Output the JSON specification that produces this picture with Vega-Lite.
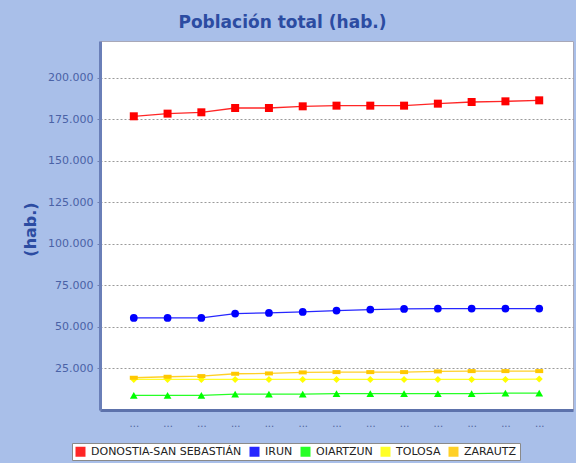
{
  "$schema": "https://vega.github.io/schema/vega-lite/v6.json",
  "width": 473,
  "height": 369,
  "autosize": {"type": "none"},
  "padding": {"left": 100, "top": 41, "right": 3, "bottom": 53},
  "background": "#a9bfe9",
  "title": {
    "text": "Población total (hab.)",
    "anchor": "middle",
    "frame": "group",
    "dx": -54,
    "dy": 18,
    "offset": 10,
    "baseline": "bottom",
    "font": "DejaVu Sans",
    "fontSize": 17,
    "fontWeight": "bold",
    "color": "#2c4ca2"
  },
  "data": {
    "values": [
      {"year": 1998, "municipio": "DONOSTIA-SAN SEBASTIÁN", "hab": 176700},
      {"year": 1999, "municipio": "DONOSTIA-SAN SEBASTIÁN", "hab": 178300},
      {"year": 2000, "municipio": "DONOSTIA-SAN SEBASTIÁN", "hab": 179100},
      {"year": 2001, "municipio": "DONOSTIA-SAN SEBASTIÁN", "hab": 181700},
      {"year": 2002, "municipio": "DONOSTIA-SAN SEBASTIÁN", "hab": 181700},
      {"year": 2003, "municipio": "DONOSTIA-SAN SEBASTIÁN", "hab": 182700},
      {"year": 2004, "municipio": "DONOSTIA-SAN SEBASTIÁN", "hab": 183100},
      {"year": 2005, "municipio": "DONOSTIA-SAN SEBASTIÁN", "hab": 183100},
      {"year": 2006, "municipio": "DONOSTIA-SAN SEBASTIÁN", "hab": 183100},
      {"year": 2007, "municipio": "DONOSTIA-SAN SEBASTIÁN", "hab": 184300},
      {"year": 2008, "municipio": "DONOSTIA-SAN SEBASTIÁN", "hab": 185300},
      {"year": 2009, "municipio": "DONOSTIA-SAN SEBASTIÁN", "hab": 185700},
      {"year": 2010, "municipio": "DONOSTIA-SAN SEBASTIÁN", "hab": 186300},
      {"year": 1998, "municipio": "IRUN", "hab": 55400},
      {"year": 1999, "municipio": "IRUN", "hab": 55400},
      {"year": 2000, "municipio": "IRUN", "hab": 55400},
      {"year": 2001, "municipio": "IRUN", "hab": 58000},
      {"year": 2002, "municipio": "IRUN", "hab": 58400},
      {"year": 2003, "municipio": "IRUN", "hab": 59000},
      {"year": 2004, "municipio": "IRUN", "hab": 59800},
      {"year": 2005, "municipio": "IRUN", "hab": 60400},
      {"year": 2006, "municipio": "IRUN", "hab": 60800},
      {"year": 2007, "municipio": "IRUN", "hab": 61000},
      {"year": 2008, "municipio": "IRUN", "hab": 61000},
      {"year": 2009, "municipio": "IRUN", "hab": 61000},
      {"year": 2010, "municipio": "IRUN", "hab": 61000},
      {"year": 1998, "municipio": "OIARTZUN", "hab": 8800},
      {"year": 1999, "municipio": "OIARTZUN", "hab": 8800},
      {"year": 2000, "municipio": "OIARTZUN", "hab": 8800},
      {"year": 2001, "municipio": "OIARTZUN", "hab": 9600},
      {"year": 2002, "municipio": "OIARTZUN", "hab": 9600},
      {"year": 2003, "municipio": "OIARTZUN", "hab": 9600},
      {"year": 2004, "municipio": "OIARTZUN", "hab": 9800},
      {"year": 2005, "municipio": "OIARTZUN", "hab": 9800},
      {"year": 2006, "municipio": "OIARTZUN", "hab": 9800},
      {"year": 2007, "municipio": "OIARTZUN", "hab": 9800},
      {"year": 2008, "municipio": "OIARTZUN", "hab": 9800},
      {"year": 2009, "municipio": "OIARTZUN", "hab": 10200},
      {"year": 2010, "municipio": "OIARTZUN", "hab": 10200},
      {"year": 1998, "municipio": "TOLOSA", "hab": 18400},
      {"year": 1999, "municipio": "TOLOSA", "hab": 18400},
      {"year": 2000, "municipio": "TOLOSA", "hab": 18400},
      {"year": 2001, "municipio": "TOLOSA", "hab": 18400},
      {"year": 2002, "municipio": "TOLOSA", "hab": 18400},
      {"year": 2003, "municipio": "TOLOSA", "hab": 18400},
      {"year": 2004, "municipio": "TOLOSA", "hab": 18400},
      {"year": 2005, "municipio": "TOLOSA", "hab": 18400},
      {"year": 2006, "municipio": "TOLOSA", "hab": 18400},
      {"year": 2007, "municipio": "TOLOSA", "hab": 18400},
      {"year": 2008, "municipio": "TOLOSA", "hab": 18400},
      {"year": 2009, "municipio": "TOLOSA", "hab": 18400},
      {"year": 2010, "municipio": "TOLOSA", "hab": 18600},
      {"year": 1998, "municipio": "ZARAUTZ", "hab": 19400},
      {"year": 1999, "municipio": "ZARAUTZ", "hab": 20000},
      {"year": 2000, "municipio": "ZARAUTZ", "hab": 20400},
      {"year": 2001, "municipio": "ZARAUTZ", "hab": 21800},
      {"year": 2002, "municipio": "ZARAUTZ", "hab": 22000},
      {"year": 2003, "municipio": "ZARAUTZ", "hab": 22600},
      {"year": 2004, "municipio": "ZARAUTZ", "hab": 22800},
      {"year": 2005, "municipio": "ZARAUTZ", "hab": 22800},
      {"year": 2006, "municipio": "ZARAUTZ", "hab": 22800},
      {"year": 2007, "municipio": "ZARAUTZ", "hab": 23200},
      {"year": 2008, "municipio": "ZARAUTZ", "hab": 23400},
      {"year": 2009, "municipio": "ZARAUTZ", "hab": 23400},
      {"year": 2010, "municipio": "ZARAUTZ", "hab": 23400}
    ]
  },
  "encoding": {
    "x": {
      "field": "year",
      "type": "ordinal",
      "scale": {"type": "point", "padding": 1.08},
      "axis": {
        "title": null,
        "labelExpr": "'...'",
        "labelAngle": 0,
        "labelFont": "DejaVu Sans",
        "labelFontSize": 10,
        "labelColor": "#50649e",
        "labelPadding": 8,
        "ticks": false,
        "grid": false,
        "domainColor": "#5d72ab",
        "domainWidth": 3
      }
    },
    "y": {
      "field": "hab",
      "type": "quantitative",
      "scale": {"domain": [0, 222000], "nice": false, "zero": true},
      "axis": {
        "title": "(hab.)",
        "values": [25000, 50000, 75000, 100000, 125000, 150000, 175000, 200000],
        "labelExpr": "replace(format(datum.value, ',d'), ',', '.')",
        "labelFont": "DejaVu Sans",
        "labelFontSize": 11,
        "labelColor": "#4a62a6",
        "labelPadding": 4,
        "tickSize": 3,
        "tickColor": "#7080b0",
        "domainColor": "#6a7fb8",
        "domainWidth": 3,
        "grid": true,
        "gridColor": "#9a9a9a",
        "gridDash": [2, 2],
        "gridWidth": 1,
        "titleFont": "DejaVu Sans",
        "titleFontSize": 16,
        "titleFontWeight": "bold",
        "titleColor": "#2c4ca2",
        "titleX": -70,
        "titleY": 188,
        "titleAlign": "center",
        "titleBaseline": "middle",
        "titleAngle": -90
      }
    },
    "color": {
      "field": "municipio",
      "type": "nominal",
      "scale": {
        "domain": ["DONOSTIA-SAN SEBASTIÁN", "IRUN", "OIARTZUN", "TOLOSA", "ZARAUTZ"],
        "range": ["#ff0000", "#0000ff", "#00ff00", "#ffff00", "#ffc800"]
      },
      "legend": {
        "title": null,
        "orient": "none",
        "legendX": -28,
        "legendY": 402,
        "direction": "horizontal",
        "columns": 5,
        "fillColor": "#ffffff",
        "strokeColor": "#8a8a8a",
        "padding": 3,
        "symbolType": "square",
        "symbolSize": 100,
        "symbolStrokeWidth": 0,
        "labelFont": "DejaVu Sans",
        "labelFontSize": 11,
        "labelColor": "#222222",
        "labelOffset": 5,
        "columnPadding": 7,
        "encode": {
          "symbols": {
            "update": {
              "fill": {"scale": "color", "field": "value"},
              "fillOpacity": {"value": 1},
              "stroke": {"value": "transparent"},
              "shape": {"value": "square"},
              "opacity": {"value": 1}
            }
          }
        }
      }
    }
  },
  "layer": [
    {
      "mark": {"type": "line", "strokeWidth": 1.3, "opacity": 0.85}
    },
    {
      "transform": [{"filter": "datum.municipio === 'DONOSTIA-SAN SEBASTIÁN'"}],
      "mark": {"type": "point", "filled": true, "opacity": 1, "size": 64, "shape": "square"}
    },
    {
      "transform": [{"filter": "datum.municipio === 'IRUN'"}],
      "mark": {"type": "point", "filled": true, "opacity": 1, "size": 60, "shape": "circle"}
    },
    {
      "transform": [{"filter": "datum.municipio === 'OIARTZUN'"}],
      "mark": {"type": "point", "filled": true, "opacity": 1, "size": 60, "shape": "triangle-up"}
    },
    {
      "transform": [{"filter": "datum.municipio === 'TOLOSA'"}],
      "mark": {"type": "point", "filled": true, "opacity": 1, "size": 50, "shape": "diamond"}
    },
    {
      "transform": [{"filter": "datum.municipio === 'ZARAUTZ'"}],
      "mark": {"type": "point", "filled": true, "opacity": 1, "size": 64, "shape": "M-1,-0.5L1,-0.5L1,0.5L-1,0.5Z"}
    }
  ],
  "config": {
    "view": {"stroke": "#a8a8b8", "strokeWidth": 1, "fill": "#ffffff"}
  }
}
